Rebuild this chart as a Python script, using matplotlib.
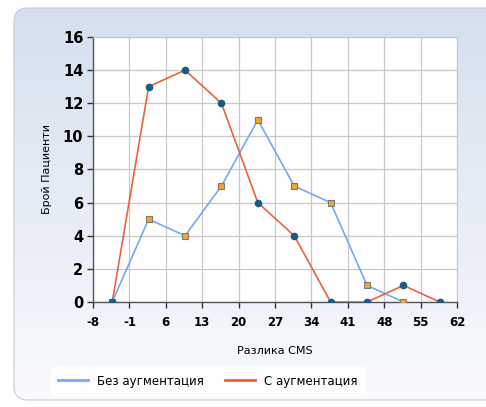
# Recreated chart: Брой Пациенти vs Разлика CMS
import numpy as np
import matplotlib.pyplot as plt
from matplotlib.patches import FancyBboxPatch

plt.rcParams["axes.unicode_minus"] = False

# Data
x_vals = [-4.3, 2.7, 9.7, 16.7, 23.7, 30.7, 37.7, 44.7, 51.7, 58.7]
without_aug = [0, 5, 4, 7, 11, 7, 6, 1, 0]
with_aug = [0, 13, 14, 12, 6, 4, 0, 0, 1, 0]
x_ticks = [-8, -1, 6, 13, 20, 27, 34, 41, 48, 55, 62]
y_ticks = [0, 2, 4, 6, 8, 10, 12, 14, 16]

fig = plt.figure(figsize = (4.86, 4.07), dpi = 100)
fig.patch.set_facecolor("white")

# Background panel with vertical gradient
bg = fig.add_axes([0, 0, 1, 1])
bg.set_xlim(0, 486)
bg.set_ylim(407, 0)
bg.axis("off")
grad = np.linspace(0, 1, 256).reshape(-1, 1)
top = np.array([0.835, 0.875, 0.935])
bottom = np.array([0.975, 0.98, 0.99])
img = top + (bottom - top) * grad[..., None]
panel = FancyBboxPatch((14, 8), 490, 392, boxstyle = "round,pad=0,rounding_size=14",
                       transform = bg.transData, facecolor = "none", edgecolor = "#c8ccd4", lw = 0.8)
bg.add_patch(panel)
im = bg.imshow(img, extent = [14, 504, 400, 8], aspect = "auto", zorder = 0)
im.set_clip_path(panel)

# Main plot
ax = fig.add_axes([93 / 486, 105 / 407, 364 / 486, 265 / 407])
ax.set_facecolor("white")
ax.plot(x_vals[:len(without_aug)], without_aug, color = "#74aaf0", lw = 1.2,
        marker = "s", ms = 4.5, mfc = "#f5a623", mec = "#7a7a7a", mew = 0.8,
        label = "Без аугментация", zorder = 3)
ax.plot(x_vals, with_aug, color = "#e8643e", lw = 1.2,
        marker = "o", ms = 4.5, mfc = "#1b5a86", mec = "#1b5a86",
        label = "С аугментация", zorder = 4)

ax.set_xlim(-8, 62)
ax.set_ylim(0, 16)
ax.set_xticks(x_ticks)
ax.set_yticks(y_ticks)
ax.grid(True, color = "#c8c8c8", lw = 0.9)
ax.set_axisbelow(True)
for t in ax.get_xticklabels():
    t.set_fontweight("bold")
    t.set_fontsize(8.5)
for t in ax.get_yticklabels():
    t.set_fontweight("bold")
    t.set_fontsize(10.5)
ax.tick_params(axis = "both", direction = "out", length = 4, width = 1, color = "#333333", pad = 3)
ax.tick_params(axis = "x", pad = 6)
for s in ["left", "bottom"]:
    ax.spines[s].set_color("#555555")
    ax.spines[s].set_linewidth(1)
for s in ["top", "right"]:
    ax.spines[s].set_color("#c8c8c8")

ax.set_xlabel("Разлика CMS", fontsize = 8, labelpad = 12)
ax.set_ylabel("Брой Пациенти", fontsize = 8, labelpad = 8)

# Legend
leg = fig.legend(loc = "center left", bbox_to_anchor = (45 / 486, 1 - 381 / 407), ncol = 2,
                 frameon = True, fontsize = 8.5, handlelength = 2.5, columnspacing = 1.8,
                 borderpad = 0.6, fancybox = False)
leg.get_frame().set_facecolor("white")
leg.get_frame().set_edgecolor("white")
for line in leg.get_lines():
    line.set_marker("")
    line.set_linewidth(2)

plt.savefig("out.png", dpi = 100)
